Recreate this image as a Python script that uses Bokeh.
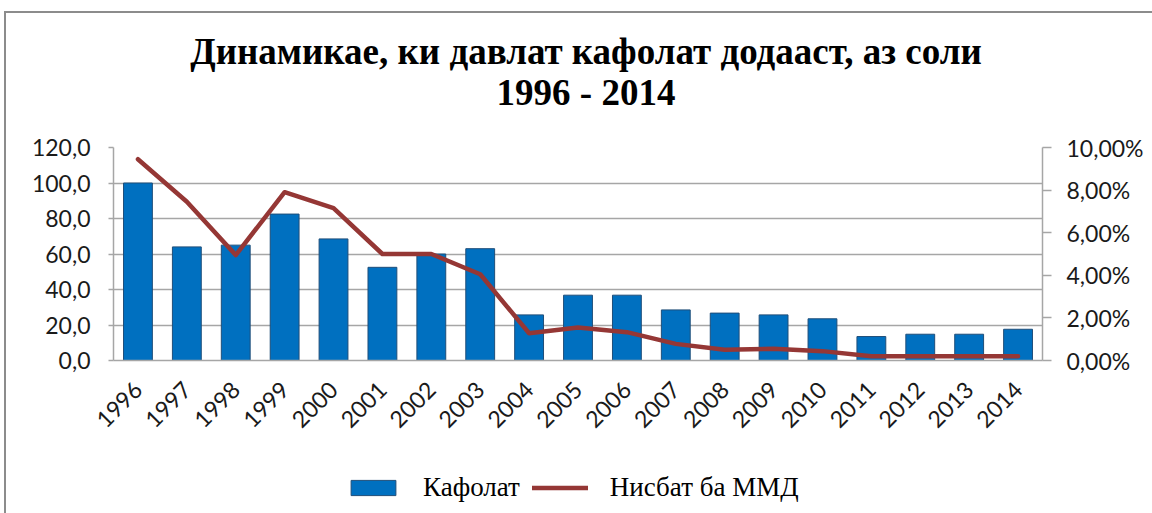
import math
from bokeh.plotting import figure
from bokeh.layouts import column
from bokeh.models import (FactorRange, Range1d, LinearAxis, FixedTicker, Div,
                          Legend, LegendItem, ColumnDataSource)
from bokeh.embed import file_html
from bokeh.resources import INLINE

# ---------------- data ----------------
years = ["1996", "1997", "1998", "1999", "2000", "2001", "2002", "2003", "2004", "2005",
         "2006", "2007", "2008", "2009", "2010", "2011", "2012", "2013", "2014"]
kafolat = [100.0, 64.0, 65.0, 82.5, 68.5, 52.5, 60.0, 63.0, 25.7, 36.8,
           36.8, 28.5, 26.7, 25.7, 23.5, 13.5, 14.8, 14.8, 17.6]
nisbat_pct = [9.45, 7.45, 4.95, 7.9, 7.15, 5.0, 5.0, 4.05, 1.28, 1.55,
              1.33, 0.78, 0.5, 0.55, 0.44, 0.2, 0.2, 0.2, 0.2]
left_ticks = [0, 20, 40, 60, 80, 100, 120]
left_labels = ["0,0", "20,0", "40,0", "60,0", "80,0", "100,0", "120,0"]
right_ticks = [0, 2, 4, 6, 8, 10]
right_labels = ["0,00%", "2,00%", "4,00%", "6,00%", "8,00%", "10,00%"]
title_line1 = "Динамикае, ки давлат кафолат додааст, аз соли"
title_line2 = "1996 - 2014"
series_names = ["Кафолат", "Нисбат ба ММД"]

BAR = "#0070C0"
BAR_EDGE = "#1F4E79"
LINE = "#953735"
GRID = "#A6A6A6"
TICKFONT = "Lato"
SERIF = "Liberation Serif"

src = ColumnDataSource(dict(year=years, kafolat=kafolat, pct=nisbat_pct))

# ---------------- title ----------------
title_div = Div(
    text=('<div style="display:block;width:1132px;margin-left:14px;padding-top:18px;'
          'text-align:center;font-family:\'Liberation Serif\';font-weight:bold;'
          'font-size:37px;line-height:41px;color:black;">'
          + title_line1 + '<br>' + title_line2 + '</div>'),
    width=1146, height=105, margin=0)

# ---------------- main chart ----------------
p = figure(width=1146, height=335, x_range=FactorRange(*years, range_padding=0),
           y_range=Range1d(0, 120), output_backend="svg", toolbar_location=None,
           min_border_left=107, min_border_right=110, min_border_top=29,
           min_border_bottom=93, title=None)
p.extra_y_ranges = {"pct": Range1d(0, 10)}

p.outline_line_color = None
p.background_fill_color = "white"
p.border_fill_color = "white"

bars = p.vbar(x="year", top="kafolat", width=0.59, source=src, fill_color=BAR,
              line_color=BAR_EDGE, line_width=1)
ln = p.line(x="year", y="pct", source=src, y_range_name="pct", line_color=LINE,
            line_width=4.5, line_join="round", line_cap="round")

p.xgrid.grid_line_color = None
p.ygrid.grid_line_color = GRID
p.ygrid.grid_line_width = 1.5
p.ygrid.ticker = FixedTicker(ticks=left_ticks)

ya = p.yaxis[0]
ya.ticker = FixedTicker(ticks=left_ticks)
ya.major_label_overrides = {t: l for t, l in zip(left_ticks, left_labels)}
ya.axis_line_color = GRID
ya.axis_line_width = 1.5
ya.major_tick_line_color = GRID
ya.major_tick_line_width = 1.5
ya.major_tick_out = 5
ya.major_tick_in = 0
ya.minor_tick_line_color = None
ya.major_label_text_font = TICKFONT
ya.major_label_text_font_size = "23px"
ya.major_label_text_color = "#1a1a1a"
ya.major_label_standoff = 18

ra = LinearAxis(y_range_name="pct", ticker=FixedTicker(ticks=right_ticks))
ra.major_label_overrides = {t: l for t, l in zip(right_ticks, right_labels)}
ra.axis_line_color = GRID
ra.axis_line_width = 1.5
ra.major_tick_line_color = GRID
ra.major_tick_line_width = 1.5
ra.major_tick_out = 9
ra.major_tick_in = 0
ra.minor_tick_line_color = None
ra.major_label_text_font = TICKFONT
ra.major_label_text_font_size = "23px"
ra.major_label_text_color = "#1a1a1a"
ra.major_label_standoff = 15
p.add_layout(ra, "right")

xa = p.xaxis[0]
xa.axis_line_color = GRID
xa.axis_line_width = 1.5
xa.major_tick_line_color = None
xa.major_tick_out = 0
xa.major_label_orientation = math.pi / 4
xa.major_label_text_font = TICKFONT
xa.major_label_text_font_size = "23px"
xa.major_label_text_color = "#1a1a1a"
xa.major_label_standoff = 25

# ---------------- legend strip ----------------
q = figure(width=1146, height=60, x_range=Range1d(0, 1), y_range=Range1d(0, 1),
           output_backend="svg", toolbar_location=None, min_border=0, title=None)
q.axis.visible = False
q.grid.grid_line_color = None
q.outline_line_color = None
# legend proxies: same styles as the chart glyphs, placed outside the visible range
lb = q.vbar(x=[-5.0], top=[-4.0], bottom=[-5.0], width=0.5, fill_color=BAR,
            line_color=BAR_EDGE, line_width=1)
ll = q.line(x=[-5.0, -4.0], y=[-5.0, -5.0], line_color=LINE, line_width=4.5,
            line_cap="round")
lg = Legend(items=[LegendItem(label=series_names[0], renderers=[lb]),
                   LegendItem(label=series_names[1], renderers=[ll])],
            location=(232, 10), orientation="horizontal", glyph_width=56,
            glyph_height=19, label_standoff=22, spacing=12, padding=0, margin=0,
            border_line_color=None, background_fill_alpha=0, label_text_font=SERIF,
            label_text_font_size="27px", label_text_color="black")
q.add_layout(lg, "center")

layout = column(title_div, p, q, spacing=0,
                styles={"margin-left": "4px", "margin-top": "11px",
                        "border-left": "2px solid #8C8C8C",
                        "border-top": "2px solid #8C8C8C"})

open("out.html", "w").write(file_html(layout, INLINE))
